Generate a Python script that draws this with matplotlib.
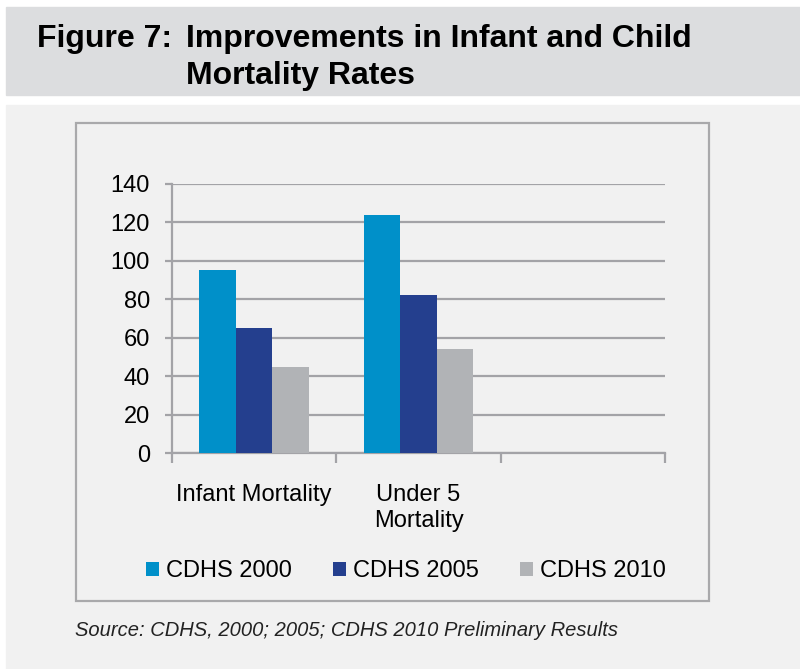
import matplotlib.pyplot as plt
from matplotlib.patches import Rectangle
import numpy as np

W, H = 800, 669

categories = ["Infant Mortality", "Under 5\nMortality", ""]
series = ["CDHS 2000", "CDHS 2005", "CDHS 2010"]
cdhs_2000 = [95, 124]
cdhs_2005 = [65, 82]
cdhs_2010 = [45, 54]
yticks = [0, 20, 40, 60, 80, 100, 120, 140]

colors = ["#0090c9", "#243f8e", "#b1b3b6"]
grid_c = "#a3a3a7"
font = "Liberation Sans"


def fx(px):
    return px / W


def fy(py):
    return 1 - py / H


fig = plt.figure(figsize=(W / 100, H / 100), dpi=100)
fig.patch.set_facecolor("white")

# title band and light panel
fig.patches.append(Rectangle((fx(6), fy(95)), fx(800) - fx(6), fy(7) - fy(95),
                             transform=fig.transFigure, color="#dcdddf", zorder=-2))
fig.patches.append(Rectangle((fx(6), 0), 1 - fx(6), fy(105),
                             transform=fig.transFigure, color="#f1f1f1", zorder=-2))
# chart border
fig.patches.append(Rectangle((fx(76), fy(601)), fx(709) - fx(76), fy(123) - fy(601),
                             transform=fig.transFigure, fill=False,
                             edgecolor="#a9a9ab", lw=1.6, zorder=-1))

title_kw = dict(fontsize=23, fontweight="bold", family=font,
                va="baseline", ha="left")
fig.text(fx(37), fy(47), "Figure 7:", **title_kw)
fig.text(fx(186), fy(47), "Improvements in Infant and Child", **title_kw)
fig.text(fx(186), fy(84), "Mortality Rates", **title_kw)

ax = fig.add_axes([fx(172), fy(453), fx(665) - fx(172), fy(184) - fy(453)])
ax.set_facecolor("none")

x = np.arange(2)
bw = 1 / 4.5
for i, (vals, name) in enumerate(zip([cdhs_2000, cdhs_2005, cdhs_2010], series)):
    ax.bar(x + (i - 1) * bw, vals, bw, color=colors[i], label=name, zorder=3)

ax.set_xlim(-0.5, 2.5)
ax.set_ylim(0, 140)
ax.set_yticks(yticks)
ax.set_yticklabels([str(v) for v in yticks], fontsize=17, family=font)
ax.yaxis.grid(True, color=grid_c, lw=1.6, zorder=0)
ax.set_axisbelow(True)

ax.set_xticks([-0.5, 0.5, 1.5, 2.5])
ax.set_xticklabels([])
ax.set_xticks([0, 1, 2], minor=True)
ax.set_xticklabels(categories, minor=True, fontsize=17, family=font,
                   linespacing=1.25, va="top")
ax.tick_params(axis="x", which="major", length=7, width=1.6, color=grid_c,
               direction="out")
ax.tick_params(axis="x", which="minor", length=0, pad=22)
ax.tick_params(axis="y", length=5, width=1.6, color=grid_c, pad=11)

for s in ["top", "right"]:
    ax.spines[s].set_visible(False)
for s in ["left", "bottom"]:
    ax.spines[s].set_color(grid_c)
    ax.spines[s].set_linewidth(1.6)

leg = fig.legend(loc="center", bbox_to_anchor=(fx(406), fy(571)), ncol=3,
                 frameon=False, prop={"family": font, "size": 17},
                 handlelength=0.55, handleheight=0.55, handletextpad=0.3,
                 columnspacing=1.75)

fig.text(fx(75), fy(636), "Source: CDHS, 2000; 2005; CDHS 2010 Preliminary Results",
         fontsize=14.5, style="italic", family=font, va="baseline", ha="left",
         color="#222222")

fig.savefig("out.png", dpi=100)
